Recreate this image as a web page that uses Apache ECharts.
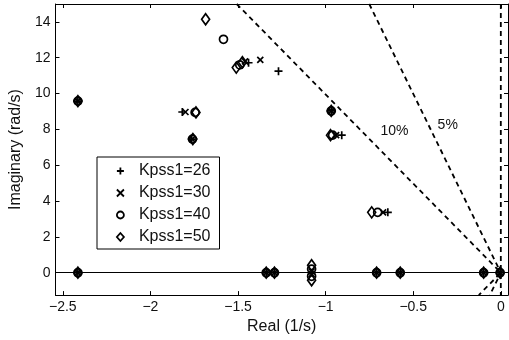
<!DOCTYPE html>
<html>
<head>
<meta charset="utf-8">
<script src="https://cdn.jsdelivr.net/npm/echarts@6/dist/echarts.min.js"></script>
<style>
  html, body { margin: 0; padding: 0; background: #fff; }
  #chart { width: 509px; height: 340px; }
</style>
</head>
<body>
<div id="chart"></div>
<script>
// eigenvalue locations (real, imag)
const realRoots = [-2.414, -1.339, -1.292, -0.709, -0.574, -0.098, -0.004]

const kpss26 = [
  [-2.414, 9.58], [-1.818, 8.97], [-1.764, 7.46], [-1.44, 11.72], [-1.269, 11.25],
  [-0.968, 9.03], [-0.908, 7.68], [-0.645, 3.37], [-1.08, 0],
]
const kpss30 = [
  [-2.414, 9.58], [-1.8, 8.97], [-1.762, 7.46], [-1.46, 11.8], [-1.373, 11.88],
  [-0.968, 9.03], [-0.94, 7.68], [-0.672, 3.37], [-1.08, 0.08], [-1.08, -0.08],
]
const kpss40 = [
  [-2.414, 9.58], [-1.745, 8.95], [-1.76, 7.46], [-1.49, 11.6], [-1.583, 13.03],
  [-0.968, 9.03], [-0.96, 7.68], [-0.703, 3.37], [-1.08, 0.2], [-1.08, -0.2],
]
const kpss50 = [
  [-2.414, 9.58], [-1.74, 8.95], [-1.758, 7.46], [-1.51, 11.45], [-1.475, 11.75],
  [-1.685, 14.15], [-0.968, 9.03], [-0.972, 7.68], [-0.737, 3.37],
  [-1.08, 0.42], [-1.08, -0.42],
]

const seriesNames = ['Kpss1=26', 'Kpss1=30', 'Kpss1=40', 'Kpss1=50']
const xTicks = [-2.5, -2, -1.5, -1, -0.5, 0]
const yTicks = [0, 2, 4, 6, 8, 10, 12, 14]

// damping ratio lines
const zetas = [0.1, 0.05, 0]
const dampLabels = [
  { text: '10%', at: [-0.607, 7.9] },
  { text: '5%', at: [-0.303, 8.24] },
]

const X_MIN = -2.542
const X_MAX = 0.041
const Y_MIN = -1.25
const Y_MAX = 15

const font = "'Liberation Sans', Arial, Helvetica, sans-serif"

const symbols = {
  'Kpss1=26': { symbol: 'path://M5,0L5,10M0,5L10,5', size: 8 },
  'Kpss1=30': { symbol: 'path://M0,0L10,10M10,0L0,10', size: 6 },
  'Kpss1=40': { symbol: 'circle', size: 8 },
  'Kpss1=50': { symbol: 'diamond', size: [8, 11] },
}

const withReal = (pts) => pts.concat(realRoots.map((r) => [r, 0]))
const allData = [kpss26, kpss30, kpss40, kpss50].map(withReal)

const fmt = (v) => (v === 0 ? '0' : String(v).replace('-', '\u2212'))

const chart = echarts.init(document.getElementById('chart'), null, { renderer: 'canvas' })

const tick = (values) => ({
  show: true, inside: true, length: 4, customValues: values, lineStyle: { color: '#000' },
})

const frameAxis = (extra) => ({
  type: 'value',
  axisLine: { show: true, onZero: false, lineStyle: { color: '#000', width: 1 } },
  splitLine: { show: false },
  ...extra,
})

const dampSeries = zetas.map((z) => {
  const k = z / Math.sqrt(1 - z * z)
  return {
    type: 'line',
    silent: true,
    symbol: 'none',
    z: 1,
    lineStyle: { color: '#000', width: 1.8, type: [5, 4] },
    data: [[-k * Y_MAX, Y_MAX], [0, 0], [-k * -Y_MIN, Y_MIN]],
  }
})

const option = {
  animation: false,
  backgroundColor: '#fff',
  grid: { left: 50, right: 1, top: 4, bottom: 42 },
  xAxis: [
    frameAxis({
      min: X_MIN, max: X_MAX, position: 'bottom',
      name: 'Real (1/s)', nameLocation: 'middle', nameGap: 19,
      nameTextStyle: { fontFamily: font, fontSize: 16, color: '#111' },
      axisTick: tick(xTicks),
      axisLabel: { customValues: xTicks, formatter: fmt, margin: 5, fontFamily: font, fontSize: 14, color: '#111' },
    }),
    frameAxis({
      min: X_MIN, max: X_MAX, position: 'top',
      axisTick: tick(xTicks),
      axisLabel: { show: false },
    }),
  ],
  yAxis: [
    frameAxis({
      min: Y_MIN, max: Y_MAX, position: 'left',
      name: 'Imaginary (rad/s)', nameLocation: 'middle', nameGap: 21,
      nameTextStyle: { fontFamily: font, fontSize: 16, color: '#111' },
      axisTick: tick(yTicks),
      axisLabel: { customValues: yTicks, formatter: fmt, margin: 5, fontFamily: font, fontSize: 14, color: '#111' },
    }),
    frameAxis({
      min: Y_MIN, max: Y_MAX, position: 'right',
      axisTick: tick(yTicks),
      axisLabel: { show: false },
    }),
  ],
  legend: {
    orient: 'vertical',
    left: 97,
    top: 157,
    padding: [6, 9, 4, 19],
    itemGap: 6,
    itemWidth: 7,
    itemHeight: 8,
    backgroundColor: '#fff',
    borderColor: '#000',
    borderWidth: 1,
    borderRadius: 0,
    itemStyle: { borderWidth: 1.8 },
    textStyle: { fontFamily: font, fontSize: 16, lineHeight: 16, color: '#111', padding: [0, 0, 0, 10] },
    data: seriesNames,
  },
  series: [
    {
      type: 'line',
      silent: true,
      symbol: 'none',
      z: 1,
      data: [],
      markLine: {
        silent: true,
        symbol: 'none',
        label: { show: false },
        lineStyle: { color: '#000', width: 1, type: 'solid' },
        data: [{ yAxis: 0 }],
      },
    },
    ...dampSeries,
    ...seriesNames.map((name, i) => ({
      name,
      type: 'scatter',
      z: 3,
      symbol: symbols[name].symbol,
      symbolSize: symbols[name].size,
      itemStyle: { color: 'rgba(0,0,0,0)', borderColor: '#000', borderWidth: 1.7, opacity: 1 },
      data: allData[i],
    })),
  ],
}

chart.setOption(option)

// damping ratio labels, placed through the axis scales
chart.setOption({
  graphic: dampLabels.map((d) => {
    const [px, py] = chart.convertToPixel({ gridIndex: 0 }, d.at)
    return {
      type: 'text',
      x: px,
      y: py,
      z: 10,
      style: {
        text: d.text,
        fontFamily: font,
        fontSize: 14,
        fill: '#111',
        align: 'center',
        verticalAlign: 'middle',
      },
    }
  }),
})
</script>
</body>
</html>
